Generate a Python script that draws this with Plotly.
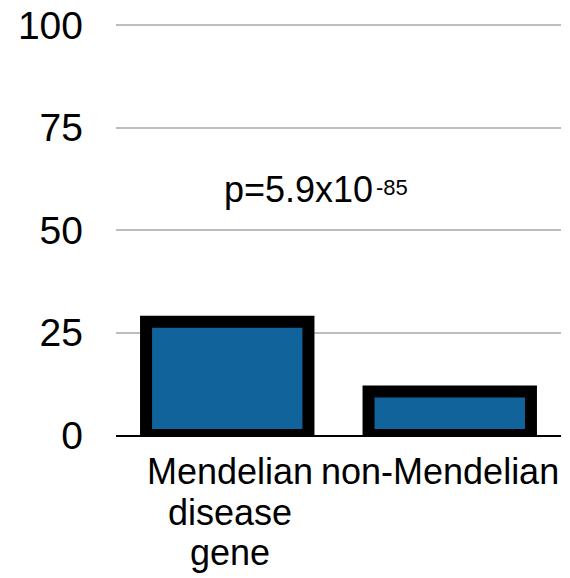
import plotly.graph_objects as go

categories = ["Mendelian disease gene", "non-Mendelian"]
category_lines = [["Mendelian", "disease", "gene"], ["non-Mendelian"]]
values = [27.6, 10.6]
y_ticks = [0, 25, 50, 75, 100]
p_main = "p=5.9x10"
p_exp = "-85"

FONT = "Arial, Liberation Sans, sans-serif"

fig = go.Figure(
    go.Bar(
        x=[0, 1],
        y=values,
        width=0.73,
        marker=dict(color="#10639b", line=dict(color="black", width=12)),
        cliponaxis=False,
    )
)

fig.add_annotation(
    x=0.665, y=59.8, xref="x", yref="y", xanchor="right", yanchor="middle",
    text=p_main, showarrow=False,
    font=dict(family=FONT, size=36, color="black"),
)
fig.add_annotation(
    x=0.659, y=60.4, xref="x", yref="y", xanchor="left", yanchor="middle",
    text=p_exp, showarrow=False,
    font=dict(family=FONT, size=22, color="black"),
)

# category labels (tight line spacing, as in the reference)
line_offsets = [36, 77, 117]
x_shifts = [3, -10]
for i, lines in enumerate(category_lines):
    for j, line in enumerate(lines):
        fig.add_annotation(
            x=i, y=0, xref="x", yref="paper", xanchor="center", yanchor="middle",
            yshift=-line_offsets[j], xshift=x_shifts[i],
            text=line, showarrow=False,
            font=dict(family=FONT, size=36, color="black"),
        )

# page body has an 8px default margin, so the figure is 8px smaller
fig.update_layout(
    width=562, height=570,
    margin=dict(l=107.5, r=8.5, t=15, b=143, autoexpand=False),
    plot_bgcolor="white", paper_bgcolor="white",
    showlegend=False,
    font=dict(family=FONT, size=36, color="black"),
)
fig.update_xaxes(
    range=[-0.5, 1.5],
    tickmode="array", tickvals=[0, 1], ticktext=categories,
    showticklabels=False,
    showgrid=False, zeroline=False,
    showline=True, linecolor="black", linewidth=2,
    ticks="",
    automargin=False,
)
fig.update_yaxes(
    range=[0, 100.5],
    tickmode="array", tickvals=y_ticks,
    showgrid=True, gridcolor="#bdbdbd", gridwidth=2,
    zeroline=False, showline=False, ticks="",
    ticklabelstandoff=32,
    ticklabeloverflow="allow",
    tickfont=dict(size=39),
    automargin=False,
)

fig.write_html("out.html")
